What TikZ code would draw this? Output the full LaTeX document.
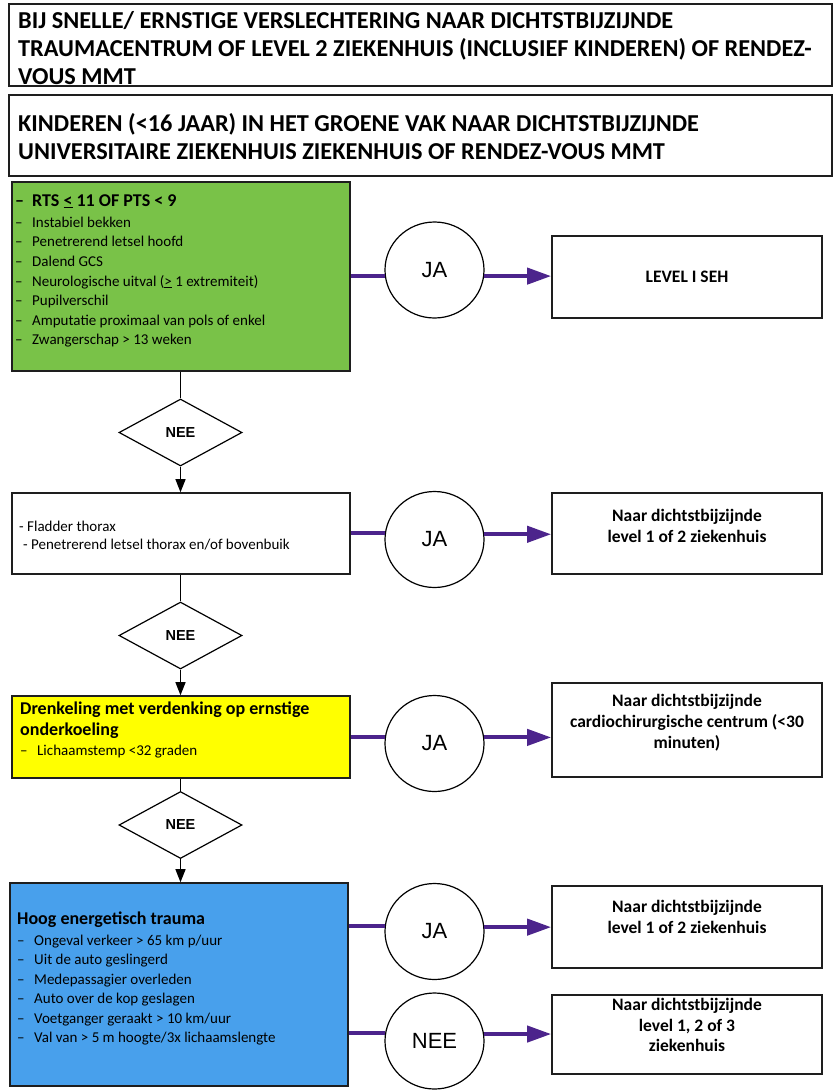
\documentclass[tikz,border=0pt]{standalone}
\usepackage{fontspec}
\setmainfont{Carlito}
\newfontfamily\arialf{Liberation Sans}
\usetikzlibrary{arrows.meta,shapes.geometric}
\definecolor{gfill}{RGB}{121,194,72}
\definecolor{yfill}{RGB}{255,255,0}
\definecolor{bfill}{RGB}{72,160,236}
\definecolor{purp}{RGB}{76,36,140}
\definecolor{edge}{RGB}{30,30,30}
\newcommand\dsh{\makebox[17pt][l]{–}}
\newcommand\bigb{\fontsize{18}{21}\selectfont\bfseries}
\newcommand\smln{\fontsize{15}{19.6}\selectfont\mdseries}
\tikzset{
 box/.style={draw=edge, line width=1.6pt, rectangle, inner sep=0pt},
 ring/.style={draw=black, line width=1.2pt, ellipse, minimum width=99pt, minimum height=96pt, inner sep=0pt, font=\arialf\fontsize{22}{22}\selectfont, fill=white},
 dia/.style={draw=black, line width=1.2pt, diamond, minimum width=123pt, minimum height=67pt, inner sep=0pt, font=\arialf\bfseries\fontsize{14.5}{14.5}\selectfont, fill=white},
 flow/.style={draw=black, line width=1.2pt},
 flowarr/.style={flow, -{Triangle[length=13pt,width=10pt]}},
 yes/.style={draw=purp, line width=4pt},
 yesarr/.style={yes, -{Triangle[length=24pt,width=16pt]}},
 hdr/.style={anchor=west, align=left, inner sep=0pt, font=\fontsize{24.3}{27.8}\selectfont\bfseries},
 lst/.style={anchor=west, align=left, inner sep=0pt, font=\fontsize{15}{19.6}\selectfont},
 res/.style={align=center, inner sep=0pt, font=\fontsize{17.5}{20.5}\selectfont\bfseries},
}
\begin{document}
\begin{tikzpicture}[x=1pt,y=-1pt]
\useasboundingbox[fill=white] (0,0) rectangle (839,1092);

% header boxes
\node[box, minimum width=823pt, minimum height=82pt] (h1) at (420.5,45) {};
\node[box, minimum width=823pt, minimum height=81pt] (h2) at (420.5,135.5) {};
\node[hdr] (h1t) at (18,48) {BIJ SNELLE/ ERNSTIGE VERSLECHTERING NAAR DICHTSTBIJZIJNDE\\TRAUMACENTRUM OF LEVEL 2 ZIEKENHUIS (INCLUSIEF KINDEREN) OF RENDEZ-\\VOUS MMT};
\node[hdr] (h2t) at (18,136.5) {KINDEREN (<16 JAAR) IN HET GROENE VAK NAAR DICHTSTBIJZIJNDE\\UNIVERSITAIRE ZIEKENHUIS ZIEKENHUIS OF RENDEZ-VOUS MMT};

% left column boxes
\node[box, fill=gfill, minimum width=338pt, minimum height=189pt] (g) at (181,276.5) {};
\node[box, minimum width=338pt, minimum height=81pt] (b2) at (181,533.5) {};
\node[box, fill=yfill, minimum width=338pt, minimum height=82pt] (yb) at (181,737) {};
\node[box, fill=bfill, minimum width=338pt, minimum height=203pt] (bb) at (179,984.5) {};

\node[lst] (gt) at (15,271) {\fontsize{18}{19.6}\selectfont\bfseries\dsh RTS \underline{<} 11 OF PTS < 9\\[1.5pt]
\dsh Instabiel bekken\\
\dsh Penetrerend letsel hoofd\\
\dsh Dalend GCS\\
\dsh Neurologische uitval (\underline{>} 1 extremiteit)\\
\dsh Pupilverschil\\
\dsh Amputatie proximaal van pols of enkel\\
\dsh Zwangerschap > 13 weken};

\node[lst, font=\fontsize{15}{18}\selectfont] (b2t) at (19,536) {- Fladder thorax\\\hspace*{4pt}- Penetrerend letsel thorax en/of bovenbuik};

\node[lst, font=\fontsize{15}{20.5}\selectfont] (yt) at (20,730) {\bigb Drenkeling met verdenking op ernstige\\
\bigb onderkoeling\\
\dsh Lichaamstemp <32 graden};

\node[lst, font=\fontsize{15}{19.4}\selectfont] (bt) at (17,978.5) {\bigb Hoog energetisch trauma\\[1.6pt]
\dsh Ongeval verkeer > 65 km p/uur\\
\dsh Uit de auto geslingerd\\
\dsh Medepassagier overleden\\
\dsh Auto over de kop geslagen\\
\dsh Voetganger geraakt > 10 km/uur\\
\dsh Val van > 5 m hoogte/3x lichaamslengte};

% right column boxes
\node[box, minimum width=270pt, minimum height=82pt] (r1) at (687,277) {};
\node[box, minimum width=270pt, minimum height=81pt] (r2) at (687,533.5) {};
\node[box, minimum width=270pt, minimum height=94pt] (r3) at (687,730) {};
\node[box, minimum width=270pt, minimum height=82pt] (r4) at (687,927) {};
\node[box, minimum width=270pt, minimum height=79pt] (r5) at (687,1034.5) {};

\node[res] (r1t) at (687,277) {LEVEL I SEH};
\node[res] (r2t) at (687,526) {Naar dichtstbijzijnde\\level 1 of 2 ziekenhuis};
\node[res, font=\fontsize{17.5}{21}\selectfont\bfseries] (r3t) at (687,723) {Naar dichtstbijzijnde\\cardiochirurgische centrum (<30\\minuten)};
\node[res] (r4t) at (687,917) {Naar dichtstbijzijnde\\level 1 of 2 ziekenhuis};
\node[res] (r5t) at (687,1025) {Naar dichtstbijzijnde\\level 1, 2 of 3\\ziekenhuis};

% diamonds
\node[dia] (d1) at (180.5,432.5) {NEE};
\node[dia] (d2) at (180.5,635.5) {NEE};
\node[dia] (d3) at (180.5,825) {NEE};

% vertical flow
\draw[flow] (g.south -| d1.north) -- (d1.north);
\draw[flowarr] (d1.south) -- (d1.south |- b2.north);
\draw[flow] (b2.south -| d2.north) -- (d2.north);
\draw[flowarr] (d2.south) -- (d2.south |- yb.north);
\draw[flow] (yb.south -| d3.north) -- (d3.north);
\draw[flowarr] (d3.south) -- (d3.south |- bb.north);

% circles
\node[ring] (c1) at (434.5,270) {JA};
\node[ring] (c2) at (434.5,539.5) {JA};
\node[ring] (c3) at (434.5,743.5) {JA};
\node[ring] (c4) at (434.5,931.5) {JA};
\node[ring] (c5) at (434.5,1041) {NEE};

% purple connectors
\draw[yes] (g.east |- c1.187) -- (c1.187);
\draw[yesarr] (c1.353) -- (r1.west |- c1.353);
\draw[yes] (b2.east |- c2.173.6) -- (c2.173.6);
\draw[yesarr] (c2.6.4) -- (r2.west |- c2.6.4);
\draw[yes] (yb.east |- c3.172.3) -- (c3.172.3);
\draw[yesarr] (c3.7.7) -- (r3.west |- c3.7.7);
\draw[yes] (bb.east |- c4.174.7) -- (c4.174.7);
\draw[yesarr] (c4.5.3) -- (r4.west |- c4.5.3);
\draw[yes] (bb.east |- c5.171.6) -- (c5.171.6);
\draw[yesarr] (c5.8.4) -- (r5.west |- c5.8.4);
\end{tikzpicture}
\end{document}
